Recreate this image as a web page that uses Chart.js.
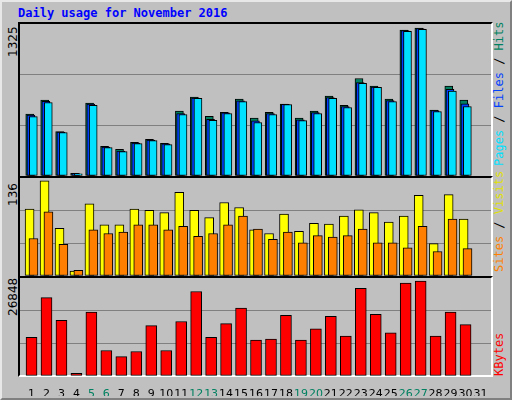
<!DOCTYPE html>
<html>
<head>
<meta charset="utf-8">
<script src="https://cdn.jsdelivr.net/npm/chart.js@4"></script>
<style>
  body { margin: 0; background: #fff; }
  #frame { position: relative; width: 508px; height: 396px; background: #c0c0c0;
           border-top: 2px solid #e8e8e8; border-left: 2px solid #e8e8e8;
           border-right: 2px solid #808080; border-bottom: 2px solid #808080; }
  .title { position: absolute; left: 16px; top: 4px; font: bold 12px 'DejaVu Sans Mono', monospace; color: #0000ff; }
  .panel { position: absolute; left: 16px; width: 471px; border-top: 2px solid #000; border-left: 2px solid #000;
           border-right: 2px solid #fff; border-bottom: 2px solid #fff; box-sizing: content-box; }
  canvas { position: absolute; }
  .rot { position: absolute; transform: rotate(-90deg); transform-origin: left top; white-space: nowrap;
         font: 12px 'DejaVu Sans Mono', monospace; }
  .max { font: 12px 'DejaVu Sans', sans-serif; color: #000; }
</style>
</head>
<body>
<div id="frame">
  <div class="title">Daily usage for November 2016</div>
  <div class="panel" style="top:20px;height:152px"></div>
  <div class="panel" style="top:174px;height:98px"></div>
  <div class="panel" style="top:274px;height:97px"></div>
  <canvas id="c1" style="left:18px;top:22px" width="471" height="152"></canvas>
  <canvas id="c2" style="left:18px;top:176px" width="471" height="98"></canvas>
  <canvas id="c3" style="left:18px;top:276px" width="471" height="118"></canvas>
  <div class="rot max" style="left:4px;top:55px">1325</div>
  <div class="rot max" style="left:4px;top:204px">136</div>
  <div class="rot max" style="left:4px;top:314px">26848</div>
  <div class="rot" style="left:490px;top:164px"><span style="color:#00e0ff">Pages</span> / <span style="color:#0040ff">Files</span> / <span style="color:#008060">Hits</span></div>
  <div class="rot" style="left:490px;top:270px"><span style="color:#ff8000">Sites</span> / <span style="color:#e0e000">Visits</span></div>
  <div class="rot" style="left:490px;top:374px"><span style="color:#ff0000">KBytes</span></div>
</div>
<script>
const days = Array.from({ length: 31 }, (_, i) => i + 1);
const weekend = [5, 6, 12, 13, 19, 20, 26, 27];

const hits   = [539,661,387,23,635,259,233,294,320,285,565,687,521,556,670,504,556,626,504,565,696,617,850,783,670,1273,1290,574,783,661,0];
const files  = [530,650,383,21,626,252,218,288,314,280,545,680,495,550,655,480,545,625,490,552,684,605,815,776,657,1267,1284,570,755,630,0];
const pages  = [518,641,379,20,617,248,213,282,309,274,536,676,486,545,649,466,536,623,483,545,676,597,807,772,649,1261,1278,562,740,606,0];
const visits = [93,132,66,7,100,71,71,93,91,88,116,91,81,102,95,64,59,86,62,73,72,83,92,88,75,83,112,45,113,79,0];
const sites  = [52,89,44,8,64,59,61,71,71,64,69,55,59,71,83,65,51,61,46,56,54,56,65,46,46,39,69,34,79,38,0];
const kbytes = [10588,21460,15220,756,17489,6996,5294,6712,13802,6996,14937,23161,10588,14370,18624,9832,10115,16638,9832,12951,16355,10966,24012,16922,11817,25430,25997,10966,17489,14086,0];

const MAX_PAGES = 1325, MAX_VISITS = 136, MAX_KB = 26848;

// lower order is drawn on top
function series(vals, off, color, w, order) {
  return {
    data: vals.map((v, i) => ({ x: days[i] + off, y: v })),
    backgroundColor: color, borderColor: '#000', borderWidth: 1,
    barThickness: w, borderSkipped: false, grouped: false, order,
  };
}

function panel(id, datasets, max, showDays) {
  new Chart(document.getElementById(id), {
    type: 'bar',
    data: { datasets },
    options: {
      responsive: false, animation: false,
      layout: { padding: 0 },
      plugins: { legend: { display: false }, tooltip: { enabled: false } },
      scales: {
        x: {
          type: 'linear', min: 0.23, max: 31.7, offset: false,
          grid: { display: false }, border: { display: false },
          afterBuildTicks: s => { s.ticks = days.map(v => ({ value: v })); },
          afterFit: s => { s.height = showDays ? 20 : 0; s.paddingLeft = 0; s.paddingRight = 0; },
          ticks: {
            display: showDays, autoSkip: false, maxRotation: 0, padding: 4,
            font: { family: 'DejaVu Sans', size: 11 },
            color: c => weekend.includes(c.tick.value) ? '#008060' : '#000',
            callback: v => v
          }
        },
        y: {
          min: 0, max, border: { display: false },
          afterFit: s => { s.width = 0; },
          ticks: { display: false, stepSize: max / 3 },
          grid: { color: c => (c.tick.value > 0 && c.tick.value < max) ? '#808080' : 'rgba(0,0,0,0)', lineWidth: 1 }
        }
      }
    }
  });
}

panel('c1', [
  series(hits, -0.12, '#008060', 8, 3),
  series(files, -0.04, '#0040ff', 8, 2),
  series(pages, 0.12, '#00e0ff', 8, 1),
], MAX_PAGES, false);

panel('c2', [
  series(visits, -0.13, '#ffff00', 9, 2),
  series(sites, 0.13, '#ff8000', 9, 1),
], MAX_VISITS, false);

panel('c3', [
  series(kbytes, 0, '#ff0000', 11, 1),
], MAX_KB, true);
</script>
</body>
</html>
